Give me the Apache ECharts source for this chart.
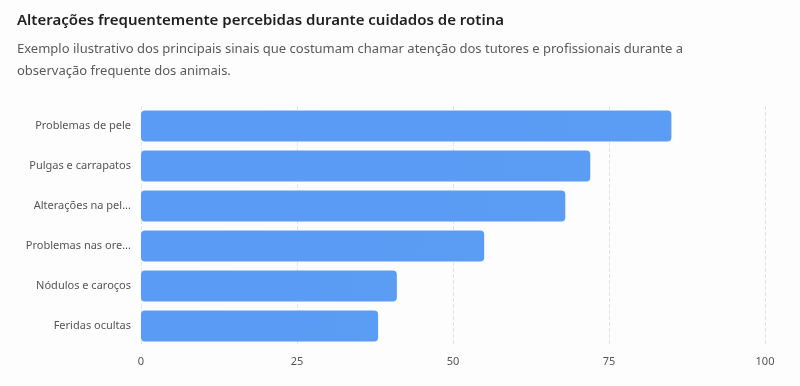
<!DOCTYPE html>
<html>
<head>
<meta charset="utf-8">
<script src="https://cdn.jsdelivr.net/npm/echarts@6/dist/echarts.min.js"></script>
<style>
  html, body { margin: 0; padding: 0; background: #fdfdfd; }
  #chart { width: 800px; height: 386px; }
</style>
</head>
<body>
<div id="chart"></div>
<script>
const categories = [
  'Problemas de pele',
  'Pulgas e carrapatos',
  'Alterações na pelagem',
  'Problemas nas orelhas',
  'Nódulos e caroços',
  'Feridas ocultas'
];
const values = [85, 72, 68, 55, 41, 38];
const xTicks = [0, 25, 50, 75, 100];

const font = '"Noto Sans", "Open Sans", sans-serif';
const inst = echarts.init(document.getElementById('chart'), null, { renderer: 'canvas' });

inst.setOption({
  animation: false,
  backgroundColor: '#fdfdfd',
  title: {
    text: 'Alterações frequentemente percebidas durante cuidados de rotina',
    subtext: 'Exemplo ilustrativo dos principais sinais que costumam chamar atenção dos tutores e profissionais durante a\nobservação frequente dos animais.',
    left: 12,
    top: 8,
    itemGap: 10,
    textStyle: { fontFamily: font, fontSize: 15, fontWeight: 600, color: '#1f1f1f' },
    subtextStyle: { fontFamily: font, fontSize: 13, color: '#5a5a5a', lineHeight: 22 }
  },
  grid: { left: 141, right: 35, top: 106, bottom: 40 },
  xAxis: {
    type: 'value',
    min: xTicks[0],
    max: xTicks[xTicks.length - 1],
    interval: 25,
    axisLine: { show: false },
    axisTick: { show: false },
    axisLabel: { color: '#555', fontFamily: font, fontSize: 11, margin: 10 },
    splitLine: { lineStyle: { color: '#e4e4e4', type: 'dashed' } }
  },
  yAxis: {
    type: 'category',
    inverse: true,
    data: categories,
    axisLine: { show: false },
    axisTick: { show: false },
    axisLabel: {
      color: '#555', fontFamily: font, fontSize: 11, margin: 10,
      width: 107, overflow: 'truncate', ellipsis: '...'
    }
  },
  series: [{
    type: 'bar',
    data: values,
    barWidth: 31,
    itemStyle: {
      borderRadius: 4,
      color: new echarts.graphic.LinearGradient(0, 0, 1, 1, [
        { offset: 0, color: '#5a9bf6' },
        { offset: 1, color: '#5b9cf5' }
      ])
    }
  }]
});
</script>
</body>
</html>
